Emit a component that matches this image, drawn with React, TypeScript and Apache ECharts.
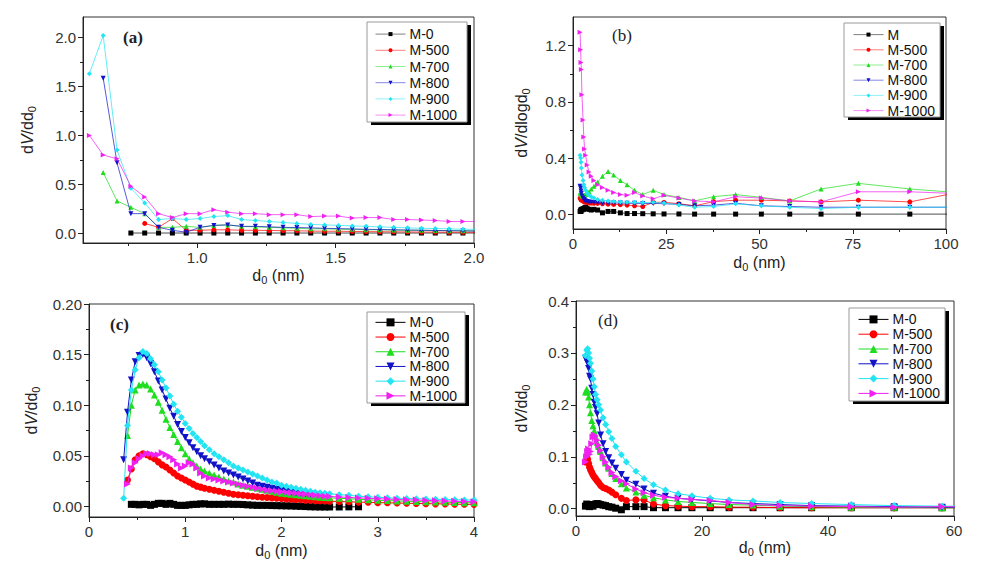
import React, { useEffect, useRef } from 'react';
import * as echarts from 'echarts';

const NAMES = ['M-0', 'M-500', 'M-700', 'M-800', 'M-900', 'M-1000'];
const NAMES_B = ['M', 'M-500', 'M-700', 'M-800', 'M-900', 'M-1000'];
const COLORS = ['#000000', '#ff0000', '#1fdd1f', '#1212c8', '#22e4f2', '#f020f0'];
const SYMBOLS = ['rect', 'circle', 'triangle', 'triangle', 'diamond', 'triangle'];
const ROTATES = [0, 0, 0, 180, 0, -90];

// ---------- Panel (a) ----------
const A_X = [0.61, 0.66, 0.71, 0.76, 0.81, 0.86, 0.91, 0.96, 1.01, 1.06, 1.11, 1.16, 1.21, 1.26, 1.31, 1.36, 1.41, 1.46, 1.51, 1.56, 1.61, 1.66, 1.71, 1.76, 1.81, 1.86, 1.91, 1.96, 2.01];
const A_M0 = [null, null, null, 0.002, 0.002, 0.002, 0.002, 0.002, 0.002, 0.002, 0.002, 0.002, 0.002, 0.002, 0.002, 0.002, 0.002, 0.002, 0.002, 0.002, 0.002, 0.002, 0.002, 0.002, 0.002, 0.002, 0.002, 0.002, 0.002];
const A_M500 = [null, null, null, null, 0.10, 0.06, 0.15, 0.03, 0.03, 0.035, 0.035, 0.03, 0.03, 0.028, 0.026, 0.025, 0.022, 0.02, 0.02, 0.018, 0.016, 0.015, 0.014, 0.013, 0.012, 0.011, 0.01, 0.01, 0.01];
const A_M700 = [null, 0.62, 0.33, 0.265, 0.2, 0.06, 0.06, 0.07, 0.06, 0.08, 0.085, 0.07, 0.065, 0.06, 0.055, 0.05, 0.045, 0.045, 0.04, 0.04, 0.035, 0.035, 0.032, 0.03, 0.03, 0.028, 0.026, 0.025, 0.024];
const A_M800 = [null, 1.585, 0.72, 0.2, 0.2, 0.06, 0.03, 0.01, 0.06, 0.08, 0.085, 0.07, 0.07, 0.065, 0.06, 0.058, 0.055, 0.05, 0.047, 0.044, 0.04, 0.038, 0.035, 0.033, 0.03, 0.028, 0.026, 0.024, 0.022];
const A_M900 = [1.63, 2.02, 0.85, 0.46, 0.31, 0.14, 0.15, 0.14, 0.15, 0.17, 0.18, 0.14, 0.13, 0.12, 0.11, 0.1, 0.09, 0.085, 0.08, 0.075, 0.07, 0.065, 0.06, 0.055, 0.05, 0.048, 0.045, 0.04, 0.04];
const A_M1000 = [1.0, 0.8, 0.76, 0.48, 0.37, 0.2, 0.16, 0.2, 0.2, 0.24, 0.215, 0.2, 0.2, 0.19, 0.19, 0.19, 0.17, 0.175, 0.175, 0.155, 0.16, 0.16, 0.14, 0.14, 0.135, 0.13, 0.12, 0.12, 0.12];

// ---------- Panel (b) ----------
const B_X = [1.9, 2.05, 2.15, 2.25, 2.4, 2.7, 2.9, 3.1, 3.4, 3.8, 4.3, 4.9, 5.6, 6.6, 7.9, 9.4, 10.9, 12.7, 14.5, 16.5, 18.7, 21.5, 24.4, 28.4, 32.6, 37.7, 43.6, 50.5, 58.1, 66.5, 76.5, 90.3, 110];
const B_M0 = [0.02, 0.03, 0.02, 0.035, 0.03, 0.04, 0.035, 0.045, 0.05, 0.04, 0.035, 0.03, 0.035, 0.03, 0.01, 0.02, 0.02, 0.01, 0.005, 0.005, 0.004, 0.003, 0.002, 0.002, 0.001, 0.001, 0.001, 0.001, 0.001, 0.001, 0.001, 0.001, 0.001];
const B_M500 = [0.115, 0.11, 0.105, 0.1, 0.1, 0.095, 0.09, 0.09, 0.085, 0.085, 0.08, 0.08, 0.078, 0.077, 0.075, 0.072, 0.07, 0.068, 0.065, 0.06, 0.055, 0.085, 0.085, 0.075, 0.06, 0.09, 0.1, 0.1, 0.095, 0.088, 0.1, 0.088, 0.19];
const B_M700 = [0.15, 0.16, 0.15, 0.14, 0.13, 0.13, 0.13, 0.135, 0.14, 0.15, 0.16, 0.18, 0.2, 0.23, 0.27, 0.305, 0.28, 0.24, 0.21, 0.17, 0.14, 0.17, 0.14, 0.12, 0.095, 0.125, 0.14, 0.12, 0.095, 0.18, 0.22, 0.18, 0.14];
const B_M800 = [0.2, 0.185, 0.165, 0.15, 0.13, 0.115, 0.105, 0.1, 0.095, 0.09, 0.087, 0.085, 0.083, 0.082, 0.08, 0.08, 0.08, 0.08, 0.078, 0.078, 0.077, 0.077, 0.075, 0.07, 0.06, 0.065, 0.078, 0.06, 0.055, 0.05, 0.05, 0.05, 0.05];
const B_M900 = [0.42, 0.4, 0.37, 0.33, 0.28, 0.24, 0.21, 0.19, 0.17, 0.15, 0.135, 0.125, 0.115, 0.105, 0.1, 0.095, 0.09, 0.088, 0.085, 0.085, 0.083, 0.085, 0.08, 0.065, 0.05, 0.055, 0.074, 0.06, 0.05, 0.04, 0.05, 0.05, 0.05];
const B_M1000 = [1.295, 1.17, 1.08, 1.03, 0.85, 0.67, 0.55, 0.465, 0.42, 0.35, 0.3, 0.27, 0.24, 0.21, 0.19, 0.17, 0.155, 0.14, 0.135, 0.155, 0.13, 0.11, 0.135, 0.115, 0.095, 0.088, 0.125, 0.115, 0.095, 0.088, 0.16, 0.16, 0.14];

// ---------- Panel (c) ----------
const C_X = [0.36, 0.40, 0.44, 0.48, 0.52, 0.56, 0.60, 0.64, 0.68, 0.72, 0.76, 0.80, 0.84, 0.88, 0.92, 0.96, 1.00, 1.04, 1.08, 1.12, 1.16, 1.20,
  1.25, 1.30, 1.35, 1.40, 1.45, 1.50, 1.55, 1.60, 1.65, 1.70, 1.75, 1.80, 1.85, 1.90, 1.95, 2.00, 2.05, 2.10, 2.15, 2.20, 2.25, 2.30, 2.35, 2.40, 2.45, 2.50,
  2.6, 2.7, 2.8, 2.9, 3.0, 3.1, 3.2, 3.3, 3.4, 3.5, 3.6, 3.7, 3.8, 3.9, 4.0];
const C_M0 = [null, null, 0.002, 0.002, 0.0015, 0.002, 0.002, 0.001, 0.002, 0.003, 0.003, 0.002, 0.003, 0.002, 0.001, 0.001, 0.001, 0.0015, 0.002, 0.002, 0.0025, 0.0025,
  0.002, 0.002, 0.002, 0.002, 0.0022, 0.002, 0.002, 0.0018, 0.0015, 0.0012, 0.001, 0.001, 0.001, 0.0008, 0.0007, 0.0006, 0.0005, 0.0004, 0.0002, 0, -0.0002, -0.0004, -0.0005, -0.0006, -0.0006, -0.0006,
  -0.0006, -0.0005, -0.0004, null, null, null, null, null, null, null, null, null, null, null, null];
const C_M500 = [null, 0.026, 0.037, 0.046, 0.05, 0.052, 0.051, 0.049, 0.047, 0.044, 0.041, 0.039, 0.036, 0.033, 0.03, 0.028, 0.026, 0.024, 0.022, 0.02, 0.019, 0.018,
  0.017, 0.016, 0.015, 0.014, 0.013, 0.012, 0.0115, 0.011, 0.0105, 0.01, 0.0095, 0.009, 0.0087, 0.0084, 0.008, 0.0077, 0.0074, 0.0071, 0.0068, 0.0065, 0.0062, 0.006, 0.0057, 0.0055, 0.0053, 0.0051,
  0.0048, 0.0045, 0.0042, 0.004, 0.0037, 0.0035, 0.0033, 0.0031, 0.0029, 0.0027, 0.0025, 0.0024, 0.0022, 0.0021, 0.002];
const C_M700 = [null, 0.07, 0.1, 0.115, 0.12, 0.121, 0.12, 0.116, 0.11, 0.103, 0.095, 0.086, 0.078, 0.071, 0.064, 0.058, 0.052, 0.047, 0.043, 0.04, 0.037, 0.035,
  0.033, 0.031, 0.029, 0.027, 0.025, 0.024, 0.022, 0.021, 0.02, 0.019, 0.018, 0.017, 0.016, 0.015, 0.014, 0.013, 0.0125, 0.012, 0.0115, 0.011, 0.0105, 0.01, 0.0095, 0.009, 0.0088, 0.0085,
  0.008, 0.0075, 0.007, 0.0065, 0.006, 0.0057, 0.0054, 0.0051, 0.0048, 0.0045, 0.0043, 0.0041, 0.0039, 0.0037, 0.0035];
const C_M800 = [0.046, 0.093, 0.125, 0.143, 0.149, 0.15, 0.147, 0.141, 0.133, 0.124, 0.115, 0.106, 0.097, 0.089, 0.081, 0.074, 0.068, 0.063, 0.058, 0.054, 0.05, 0.047,
  0.044, 0.041, 0.038, 0.035, 0.033, 0.031, 0.029, 0.027, 0.025, 0.023, 0.021, 0.02, 0.019, 0.018, 0.017, 0.016, 0.015, 0.014, 0.0135, 0.013, 0.0125, 0.012, null, null, null, null,
  null, null, null, null, null, null, null, null, null, null, null, null, null, null, null];
const C_M900 = [0.008, 0.08, 0.115, 0.135, 0.147, 0.153, 0.151, 0.146, 0.14, 0.133, 0.125, 0.117, 0.109, 0.101, 0.094, 0.088, 0.082, 0.077, 0.072, 0.068, 0.064, 0.06,
  0.056, 0.052, 0.049, 0.046, 0.043, 0.04, 0.038, 0.036, 0.034, 0.032, 0.03, 0.028, 0.026, 0.024, 0.023, 0.021, 0.02, 0.019, 0.018, 0.017, 0.016, 0.015, 0.014, 0.0135, 0.013, 0.0125,
  0.0115, 0.011, 0.01, 0.0095, 0.009, 0.0085, 0.008, 0.0078, 0.0075, 0.0072, 0.007, 0.0068, 0.0066, 0.0064, 0.0062];
const C_M1000 = [null, 0.022, 0.038, 0.043, 0.047, 0.05, 0.052, 0.052, 0.051, 0.051, 0.053, 0.051, 0.049, 0.046, 0.042, 0.038, 0.04, 0.043, 0.042, 0.038, 0.033, 0.03,
  0.028, 0.027, 0.026, 0.025, 0.024, 0.023, 0.022, 0.021, 0.02, 0.019, 0.018, 0.017, 0.016, 0.0155, 0.015, 0.0145, 0.014, 0.0135, 0.013, 0.0125, 0.012, 0.0115, 0.011, 0.0105, 0.01, 0.0098,
  0.0093, 0.0088, 0.0084, 0.008, 0.0076, 0.0072, 0.0068, 0.0065, 0.0062, 0.0059, 0.0056, 0.0053, 0.005, 0.0048, 0.0046];

// ---------- Panel (d) ----------
const D_X = [1.5, 1.7, 1.85, 2.0, 2.15, 2.3, 2.5, 2.7, 2.9, 3.1, 3.35, 3.6, 3.9, 4.3, 4.7, 5.2, 5.7, 6.3, 7.2, 8.0, 9.5, 10.8, 12.3, 14.2, 16.2, 18.4, 21.3, 24.3, 28.1, 32.4, 37.4, 43.7, 50.5, 58.1, 68];
const D_M0 = [0.005, 0.009, 0.006, 0.008, 0.004, 0.007, 0.006, 0.005, 0.008, 0.009, 0.01, 0.009, 0.008, 0.007, 0.006, 0.004, 0.003, 0.001, -0.002, 0.004, 0.004, 0.004, 0.002, 0.002, 0.002, 0.002, 0.002, 0.002, 0.002, 0.002, 0.002, 0.002, 0.002, 0.002, 0.002];
const D_M500 = [0.09, 0.1, 0.095, 0.087, 0.08, 0.075, 0.07, 0.065, 0.061, 0.058, 0.054, 0.05, 0.045, 0.041, 0.039, 0.036, 0.032, 0.027, 0.02, 0.016, 0.017, 0.017, 0.009, 0.006, 0.005, 0.004, 0.004, 0.003, 0.003, 0.002, 0.002, 0.002, 0.002, 0.002, 0.002];
const D_M700 = [0.225, 0.23, 0.225, 0.215, 0.2, 0.185, 0.17, 0.16, 0.15, 0.14, 0.128, 0.12, 0.11, 0.098, 0.088, 0.078, 0.068, 0.058, 0.048, 0.04, 0.032, 0.026, 0.021, 0.017, 0.014, 0.012, 0.01, 0.008, 0.007, 0.005, 0.004, 0.003, 0.003, 0.002, 0.002];
const D_M800 = [0.29, 0.285, 0.28, 0.27, 0.255, 0.25, 0.232, 0.22, 0.205, 0.195, 0.183, 0.165, 0.142, 0.125, 0.11, 0.098, 0.088, 0.078, 0.066, 0.055, 0.047, 0.038, 0.03, 0.024, 0.02, 0.018, 0.015, 0.012, 0.01, 0.008, 0.006, 0.005, 0.004, 0.003, 0.003];
const D_M900 = [0.295, 0.305, 0.308, 0.3, 0.29, 0.28, 0.265, 0.25, 0.235, 0.22, 0.21, 0.2, 0.19, 0.175, 0.162, 0.148, 0.135, 0.12, 0.104, 0.09, 0.072, 0.058, 0.046, 0.036, 0.029, 0.025, 0.02, 0.017, 0.015, 0.012, 0.01, 0.008, 0.006, 0.005, 0.004];
const D_M1000 = [0.09, 0.1, 0.11, 0.115, 0.105, 0.11, 0.125, 0.138, 0.142, 0.14, 0.132, 0.122, 0.112, 0.1, 0.09, 0.08, 0.07, 0.062, 0.054, 0.048, 0.038, 0.031, 0.026, 0.022, 0.02, 0.018, 0.016, 0.012, 0.008, 0.006, 0.005, 0.004, 0.003, 0.004, 0.003];

// Tick values
const A_XMAJ = [1.0, 1.5, 2.0];
const A_XMIN = [0.75, 1.25, 1.75];
const A_YMAJ = [0, 0.5, 1.0, 1.5, 2.0];
const A_YMIN = [0.25, 0.75, 1.25, 1.75];
const B_XMAJ = [0, 25, 50, 75, 100];
const B_XMIN = [12.5, 37.5, 62.5, 87.5];
const B_YMAJ = [0, 0.4, 0.8, 1.2];
const B_YMIN = [0.2, 0.6, 1.0];
const C_XMAJ = [0, 1, 2, 3, 4];
const C_XMIN = [0.5, 1.5, 2.5, 3.5];
const C_YMAJ = [0, 0.05, 0.1, 0.15, 0.2];
const C_YMIN = [0.025, 0.075, 0.125, 0.175];
const D_XMAJ = [0, 20, 40, 60];
const D_XMIN = [10, 30, 50];
const D_YMAJ = [0, 0.1, 0.2, 0.3, 0.4];
const D_YMIN = [0.05, 0.15, 0.25, 0.35];

const SANS = 'Liberation Sans, Arial, Helvetica, sans-serif';
const SERIF = 'Liberation Serif, Times New Roman, serif';

const GRIDS = [
  { left: 83, top: 17, width: 391, height: 226 },
  { left: 573, top: 17, width: 373, height: 212 },
  { left: 89, top: 304, width: 385, height: 213 },
  { left: 576, top: 301, width: 378, height: 215 },
];

function pairs(xs: number[], ys: (number | null)[]) {
  const out: number[][] = [];
  xs.forEach((x, i) => {
    const y = ys[i];
    if (y !== null && y !== undefined) out.push([x, y]);
  });
  return out;
}

const richName = {
  t: { fontSize: 16, fontFamily: SANS, color: '#222' },
  v: { fontSize: 16, fontFamily: SANS, fontStyle: 'italic', color: '#222' },
  s: { fontSize: 11, fontFamily: SANS, color: '#222', padding: [8, 0, 0, 0] },
};

function axisPair(
  dim: 'x' | 'y', gridIndex: number, min: number, max: number,
  majors: number[], minors: number[], dec: number, name: string, nameGap: number,
) {
  const main: any = {
    type: 'value', gridIndex, min, max,
    position: dim === 'x' ? 'bottom' : 'left',
    axisLine: { show: true, onZero: false, lineStyle: { color: '#222', width: 1 } },
    axisTick: { show: true, customValues: majors, length: 5, lineStyle: { color: '#222' } },
    axisLabel: {
      show: true, customValues: majors, fontSize: 15, fontFamily: SANS, color: '#333', margin: 7,
      formatter: (v: number) => Number(v).toFixed(dec),
    },
    splitLine: { show: false },
    name, nameLocation: 'middle', nameGap,
    nameRotate: dim === 'y' ? 90 : 0,
    nameTextStyle: { rich: richName },
  };
  const ghost: any = {
    type: 'value', gridIndex, min, max,
    position: dim === 'x' ? 'bottom' : 'left',
    axisLine: { show: false, onZero: false },
    axisTick: { show: true, customValues: minors, length: 3, lineStyle: { color: '#222' } },
    axisLabel: { show: false },
    splitLine: { show: false },
  };
  return [main, ghost];
}

function panelSeries(key: string, p: number, xs: number[], ys: (number | null)[][], names: string[], size: number, opacity: number) {
  return ys.map((arr, i) => ({
    name: `${key}:${names[i]}`,
    type: 'line',
    xAxisIndex: p * 2,
    yAxisIndex: p * 2,
    data: pairs(xs, arr),
    symbol: SYMBOLS[i],
    symbolRotate: ROTATES[i],
    symbolSize: size,
    showSymbol: true,
    clip: true,
    lineStyle: { color: COLORS[i], width: 1, opacity },
    itemStyle: { color: COLORS[i] },
    z: 2 + i * 0.01,
  }));
}

function legendFor(key: string, names: string[], left: number, top: number, itemHeight: number, lineHeight: number, lineOpacity: number) {
  return {
    show: true,
    orient: 'vertical',
    left, top,
    padding: 0,
    itemGap: 0,
    itemWidth: 30,
    itemHeight,
    selectedMode: false,
    data: names.map((n) => `${key}:${n}`),
    formatter: (n: string) => n.split(':')[1],
    lineStyle: { width: 1, opacity: lineOpacity },
    textStyle: { fontSize: 14, fontFamily: SANS, color: '#111', lineHeight, padding: [0, 0, 0, -1] },
    z: 10,
  };
}

function legendBox(x: number, y: number, w: number, h: number) {
  return [
    { type: 'rect', z: 8, shape: { x: x + 4, y: y + 3, width: w, height: h }, style: { fill: '#000' } },
    { type: 'rect', z: 9, shape: { x, y, width: w, height: h }, style: { fill: '#fff', stroke: '#999', lineWidth: 1 } },
  ];
}

function panelLabel(text: string, x: number, y: number, bold: boolean) {
  return {
    type: 'text', z: 9, x, y,
    style: { text, fontSize: 17, fontFamily: SERIF, fontWeight: bold ? 'bold' : 'normal', fill: '#222', textVerticalAlign: 'middle' },
  };
}

const X_NAME = '{t|d}{s|0}{t| (nm)}';

export default function App() {
  const ref = useRef<HTMLDivElement>(null);
  useEffect(() => {
    if (!ref.current) return;
    const chart = echarts.init(ref.current, undefined, { renderer: 'svg' });
    const xAxis = [
      ...axisPair('x', 0, 0.587, 2.0, A_XMAJ, A_XMIN, 1, X_NAME, 23),
      ...axisPair('x', 1, 0, 100, B_XMAJ, B_XMIN, 0, X_NAME, 24),
      ...axisPair('x', 2, 0, 4, C_XMAJ, C_XMIN, 0, X_NAME, 24),
      ...axisPair('x', 3, 0, 60, D_XMAJ, D_XMIN, 0, X_NAME, 22),
    ];
    const yAxis = [
      ...axisPair('y', 0, -0.1, 2.21, A_YMAJ, A_YMIN, 1, '{t|d}{v|V}{t|/dd}{s|0}', 46),
      ...axisPair('y', 1, -0.105, 1.404, B_YMAJ, B_YMIN, 1, '{t|d}{v|V}{t|/dlogd}{s|0}', 42),
      ...axisPair('y', 2, -0.0105, 0.2, C_YMAJ, C_YMIN, 2, '{t|d}{v|V}{t|/dd}{s|0}', 48),
      ...axisPair('y', 3, -0.014, 0.4, D_YMAJ, D_YMIN, 1, '{t|d}{v|V}{t|/dd}{s|0}', 45),
    ];
    const series = [
      ...panelSeries('a', 0, A_X, [A_M0, A_M500, A_M700, A_M800, A_M900, A_M1000], NAMES, 5, 0.7),
      ...panelSeries('b', 1, B_X, [B_M0, B_M500, B_M700, B_M800, B_M900, B_M1000], NAMES_B, 5, 0.7),
      ...panelSeries('c', 2, C_X, [C_M0, C_M500, C_M700, C_M800, C_M900, C_M1000], NAMES, 7, 1),
      ...panelSeries('d', 3, D_X, [D_M0, D_M500, D_M700, D_M800, D_M900, D_M1000], NAMES, 7, 1),
    ];
    chart.setOption({
      animation: false,
      backgroundColor: '#fff',
      grid: GRIDS.map((g) => ({ ...g, show: true, borderColor: '#333', borderWidth: 1, backgroundColor: 'transparent', containLabel: false })),
      xAxis,
      yAxis,
      legend: [
        legendFor('a', NAMES, 375, 26, 5, 16.2, 0.5),
        legendFor('b', NAMES_B, 853, 27, 5, 15.2, 0.5),
        legendFor('c', NAMES, 375, 315, 10, 14.7, 1),
        legendFor('d', NAMES, 858, 312, 10, 14.8, 1),
      ],
      graphic: [
        ...legendBox(367, 22, 100, 100),
        ...legendBox(844, 23, 96, 94),
        ...legendBox(367, 312, 98, 91),
        ...legendBox(849, 308, 96, 93),
        panelLabel('(a)', 123, 37, true),
        panelLabel('(b)', 612, 35, false),
        panelLabel('(c)', 110, 324, true),
        panelLabel('(d)', 598, 320, false),
      ],
      series,
    });
    return () => chart.dispose();
  }, []);
  return <div ref={ref} style={{ position: 'absolute', left: 0, top: 0, width: 986, height: 564 }} />;
}
